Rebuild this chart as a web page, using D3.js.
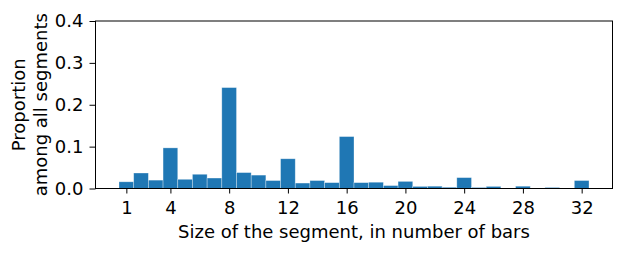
<!DOCTYPE html>
<html>
<head>
<meta charset="utf-8">
<script src="https://cdn.jsdelivr.net/npm/d3@7"></script>
<style>
  body { margin: 0; background: #fff; }
  text { font-family: "DejaVu Sans", sans-serif; fill: #000; }
</style>
</head>
<body>
<div id="chart"></div>
<script>
// segment sizes 1..32 and their proportions
var sizes = d3.range(1, 33);
var proportions = [0.016, 0.037, 0.020, 0.097, 0.022, 0.034, 0.025, 0.241,
                   0.038, 0.032, 0.019, 0.071, 0.013, 0.019, 0.014, 0.124,
                   0.014, 0.015, 0.007, 0.017, 0.005, 0.0055, 0.003, 0.026,
                   0.0025, 0.005, 0.001, 0.0055, 0.0005, 0.0025, 0.001, 0.019];
var xTicks = [1, 4, 8, 12, 16, 20, 24, 28, 32];
var yTicks = [0, 0.1, 0.2, 0.3, 0.4];

var width = 623, height = 253;
var margin = { left: 95.5, right: 10.5, top: 21, bottom: 64.5 };
var fs = '18px';

var svg = d3.select('#chart').append('svg')
      .attr('width', width)
      .attr('height', height);

var x = d3.scaleLinear().domain([-1.1, 34.1]).range([margin.left, width - margin.right]);
var y = d3.scaleLinear().domain([0, 0.4]).range([height - margin.bottom, margin.top]);

// bars
svg.append('g').selectAll('rect')
      .data(sizes)
      .enter().append('rect')
      .attr('x', function (d) { return x(d - 0.5); })
      .attr('width', function (d) { return x(d + 0.5) - x(d - 0.5); })
      .attr('y', function (d, i) { return y(proportions[i]); })
      .attr('height', function (d, i) { return y(0) - y(proportions[i]); })
      .style('fill', '#1f77b4')
      .style('stroke', 'rgba(255,255,255,0.45)')
      .style('stroke-width', 0.7);

// axes
var xAxis = svg.append('g')
      .attr('transform', 'translate(0,' + y(0) + ')')
      .call(d3.axisBottom(x).tickValues(xTicks).tickSize(5).tickPadding(7.5));
var yAxis = svg.append('g')
      .attr('transform', 'translate(' + margin.left + ',0)')
      .call(d3.axisLeft(y).tickValues(yTicks).tickFormat(d3.format('.1f')).tickSize(6).tickPadding(6));
[xAxis, yAxis].forEach(function (a) {
      a.selectAll('text').style('font-size', fs).style('font-family', '"DejaVu Sans", sans-serif');
      a.select('.domain').remove();
      a.selectAll('line').style('stroke', '#000').style('stroke-width', 1);
});

// frame
svg.append('rect')
      .attr('x', margin.left).attr('y', margin.top)
      .attr('width', width - margin.right - margin.left)
      .attr('height', y(0) - margin.top)
      .style('fill', 'none').style('stroke', '#000').style('stroke-width', 1);

// labels
svg.append('text')
      .attr('x', (margin.left + width - margin.right) / 2)
      .attr('y', 238)
      .attr('text-anchor', 'middle')
      .style('font-size', fs)
      .text('Size of the segment, in number of bars');

var yl = svg.append('text')
      .attr('transform', 'translate(0,' + (margin.top + y(0)) / 2 + ') rotate(-90)')
      .attr('text-anchor', 'middle')
      .style('font-size', fs);
yl.append('tspan').attr('x', 0).attr('y', 25).text('Proportion');
yl.append('tspan').attr('x', 0).attr('y', 46.5).text('among all segments');
</script>
</body>
</html>
